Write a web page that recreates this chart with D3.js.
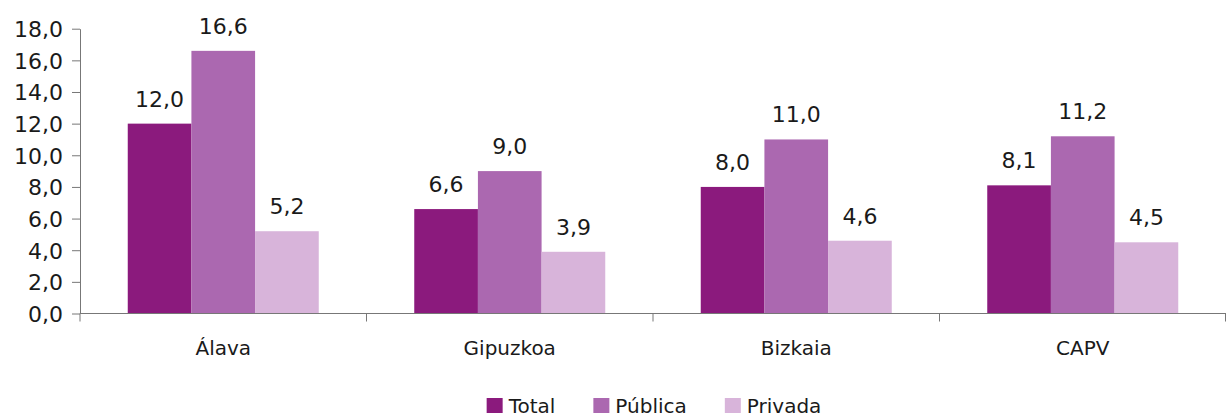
<!DOCTYPE html>
<html>
<head>
<meta charset="utf-8">
<script src="https://cdn.jsdelivr.net/npm/d3@7"></script>
<style>
body { margin: 0; background: #fff; }
text { font-family: "DejaVu Sans", sans-serif; fill: #1a1a1a; }
</style>
</head>
<body>
<div id="chart"></div>
<script>
var width = 1226
var height = 417

var categories = ["Álava", "Gipuzkoa", "Bizkaia", "CAPV"]
var series = ["Total", "Pública", "Privada"]
var total = [12.0, 6.6, 8.0, 8.1]
var publica = [16.6, 9.0, 11.0, 11.2]
var privada = [5.2, 3.9, 4.6, 4.5]
var yTicks = [0, 2, 4, 6, 8, 10, 12, 14, 16, 18]
var colors = ["#8b1a7d", "#ab68b0", "#d8b4da"]

var values = [total, publica, privada]
var rows = []
series.forEach(function(s, i){
	categories.forEach(function(c, j){
		rows.push({serie: s, idx: i, cat: c, v: values[i][j]})
	})
})

var svg = d3.select("#chart").append("svg")
	.attr("width", width)
	.attr("height", height)

var x = d3.scaleBand().domain(categories).range([80, 1226]).padding(0)
var xs = d3.scaleBand().domain(series).range([0, x.bandwidth()]).paddingInner(0).paddingOuter(0.75)
var y = d3.scaleLinear().domain([0, 18]).range([313.5, 28.7])

function fmt(v){ return d3.format(".1f")(v).replace(".", ",") }

// bars
svg.selectAll("rect.bar")
	.data(rows).enter()
	.append("rect")
	  .classed("bar", true)
	  .attr("x", function(d){ return x(d.cat) + xs(d.serie) })
	  .attr("width", xs.bandwidth())
	  .attr("y", function(d){ return y(d.v) })
	  .attr("height", function(d){ return y(0) - y(d.v) })
	  .attr("fill", function(d){ return colors[d.idx] })

// value labels
svg.selectAll("text.val")
	.data(rows).enter()
	.append("text")
	  .classed("val", true)
	  .attr("x", function(d){ return x(d.cat) + xs(d.serie) + xs.bandwidth() / 2 })
	  .attr("y", function(d){ return y(d.v) - 17 })
	  .attr("text-anchor", "middle")
	  .style("font-size", "22px")
	  .text(function(d){ return fmt(d.v) })

// y axis
var yAxis = svg.append("g")
	.attr("transform", "translate(80,0)")
	.call(d3.axisLeft(y).tickValues(yTicks).tickFormat(fmt).tickSize(8).tickSizeOuter(0))
yAxis.select(".domain").attr("stroke", "#777")
yAxis.selectAll(".tick line").attr("stroke", "#777")
yAxis.selectAll(".tick text")
	.attr("x", -17)
	.attr("dy", "0.36em")
	.style("font-size", "22px")
	.style("font-family", "'DejaVu Sans', sans-serif")
	.attr("fill", "#1a1a1a")

// x axis
var xAxis = svg.append("g")
	.attr("transform", "translate(0," + y(0) + ")")
xAxis.append("line")
	.attr("x1", 80).attr("x2", 1226)
	.attr("stroke", "#777")
var bounds = categories.map(function(c){ return x(c) }).concat([x.range()[1] - 0.5])
xAxis.selectAll("line.tk")
	.data(bounds).enter()
	.append("line")
	  .classed("tk", true)
	  .attr("x1", function(d){ return d }).attr("x2", function(d){ return d })
	  .attr("y1", 0).attr("y2", 8)
	  .attr("stroke", "#777")
xAxis.selectAll("text.cat")
	.data(categories).enter()
	.append("text")
	  .classed("cat", true)
	  .attr("x", function(d){ return x(d) + x.bandwidth() / 2 })
	  .attr("y", 41)
	  .attr("text-anchor", "middle")
	  .style("font-size", "20px")
	  .text(function(d){ return d })

// legend
var legend = svg.append("g")
var lx = 0
series.forEach(function(s, i){
	var g = legend.append("g").attr("transform", "translate(" + lx + ",0)")
	g.append("rect")
	  .attr("x", 0).attr("y", -15)
	  .attr("width", 16).attr("height", 15)
	  .attr("fill", colors[i])
	var t = g.append("text")
	  .attr("x", 22).attr("y", 0)
	  .style("font-size", "20px")
	  .text(s)
	lx += 22 + t.node().getComputedTextLength() + 38
})
var lw = lx - 38
legend.attr("transform", "translate(" + (654 - lw / 2) + ",413)")
</script>
</body>
</html>
